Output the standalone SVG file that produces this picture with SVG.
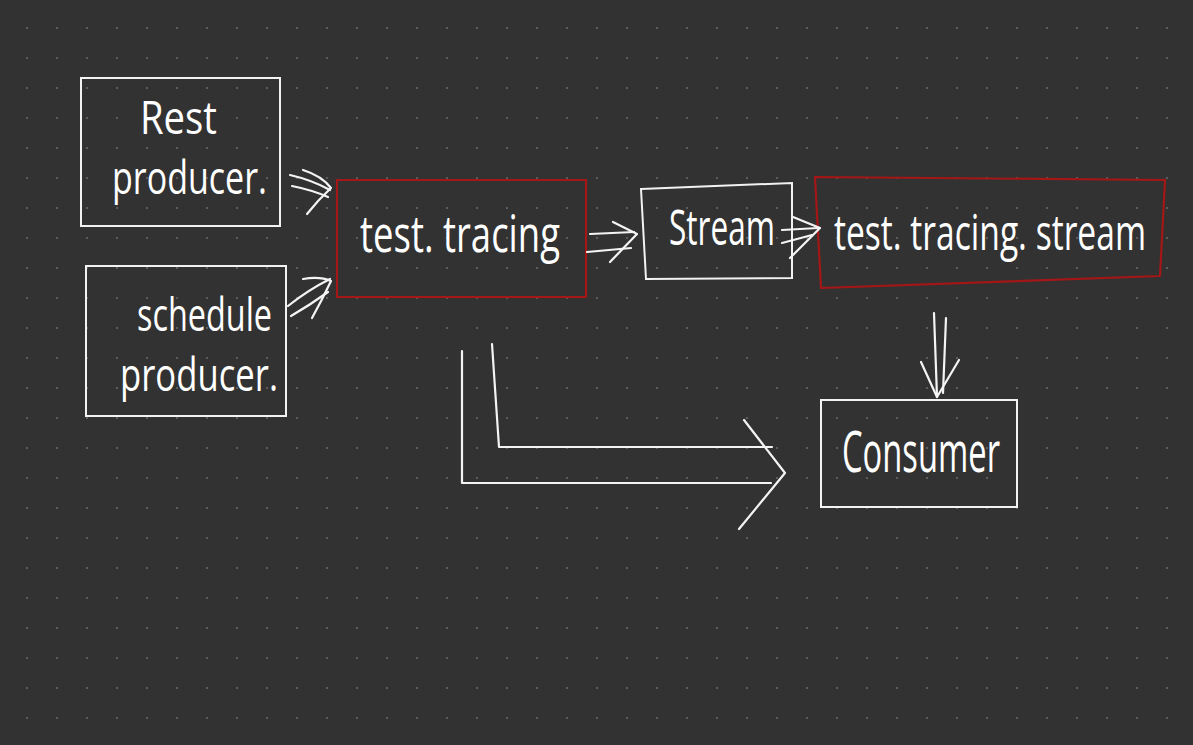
<svg xmlns="http://www.w3.org/2000/svg" width="1193" height="745" viewBox="0 0 1193 745">
  <defs>
    <pattern id="dots" x="0" y="0" width="30" height="30" patternUnits="userSpaceOnUse">
      <circle cx="27" cy="28" r="1.1" fill="#666666"/>
    </pattern>
    <style>
      .box { fill: none; stroke: #f2f2f2; stroke-width: 2; }
      .red { fill: none; stroke: #a51616; stroke-width: 2.2; stroke-linejoin: round; }
      .ink { fill: none; stroke: #f4f4f4; stroke-width: 2.2; stroke-linecap: round; stroke-linejoin: round; }
      .txt { font-family: "Open Sans", "Liberation Sans", sans-serif; fill: #ffffff; font-weight: 400; }
    </style>
  </defs>
  <rect width="1193" height="745" fill="#323232"/>
  <rect width="1193" height="745" fill="url(#dots)"/>

  <g id="rest-producer">
    <rect class="box" x="81" y="78" width="199" height="148"/>
    <text class="txt" x="140" y="134" font-size="46" textLength="77" lengthAdjust="spacingAndGlyphs">Rest</text>
    <text class="txt" x="112" y="194" font-size="46" textLength="155" lengthAdjust="spacingAndGlyphs">producer.</text>
  </g>

  <g id="schedule-producer">
    <rect class="box" x="86" y="266" width="200" height="150"/>
    <text class="txt" x="137" y="331" font-size="46" textLength="135" lengthAdjust="spacingAndGlyphs">schedule</text>
    <text class="txt" x="120" y="391" font-size="46" textLength="158" lengthAdjust="spacingAndGlyphs">producer.</text>
  </g>

  <g id="test-tracing">
    <rect class="red" x="337" y="180" width="249" height="117"/>
    <text class="txt" x="360" y="252" font-size="52" textLength="200" lengthAdjust="spacingAndGlyphs">test. tracing</text>
  </g>

  <g id="stream">
    <polygon class="box" points="641,189 792,183 792,278 646,279"/>
    <text class="txt" x="669" y="245" font-size="50" textLength="106" lengthAdjust="spacingAndGlyphs">Stream</text>
  </g>

  <g id="test-tracing-stream">
    <polygon class="red" points="815,177 1165,180 1160,276 821,288"/>
    <text class="txt" transform="translate(834,250) scale(0.672,1)" x="0" y="0" font-size="50">test. tracing. stream</text>
  </g>

  <g id="consumer">
    <rect class="box" x="821" y="400" width="196" height="107"/>
    <text class="txt" x="842" y="472" font-size="56" textLength="158" lengthAdjust="spacingAndGlyphs">Consumer</text>
  </g>

  <g id="connectors">
    <!-- Rest producer -> test.tracing -->
    <path class="ink" d="M290,175 Q312,180 330,190"/>
    <path class="ink" d="M292,186 Q312,190 328,197"/>
    <path class="ink" d="M303,170 Q322,176 331,188 Q318,200 307,214"/>
    <!-- Schedule producer -> test.tracing -->
    <path class="ink" d="M288,306 Q308,290 330,279"/>
    <path class="ink" d="M291,316 Q310,305 328,292"/>
    <path class="ink" d="M303,279 Q320,276 331,281 Q322,300 312,318"/>
    <!-- test.tracing -> Stream -->
    <path class="ink" d="M590,234 L634,232"/>
    <path class="ink" d="M587,252 L631,248"/>
    <path class="ink" d="M613,222 L637,234 L610,262"/>
    <!-- Stream -> test.tracing.stream -->
    <path class="ink" d="M782,230 L818,228"/>
    <path class="ink" d="M782,243 L812,235"/>
    <path class="ink" d="M793,217 L820,228 L790,258"/>
    <!-- test.tracing.stream -> Consumer -->
    <path class="ink" d="M934,313 L937,397"/>
    <path class="ink" d="M946,318 L943,393"/>
    <path class="ink" d="M921,362 L937,397 L959,360"/>
    <!-- test.tracing -> Consumer (bent double arrow) -->
    <path class="ink" d="M492,344 L499,447 L772,447"/>
    <path class="ink" d="M462,351 L462,483 L771,483"/>
    <path class="ink" d="M744,420 L785,473 L739,529"/>
  </g>
</svg>
